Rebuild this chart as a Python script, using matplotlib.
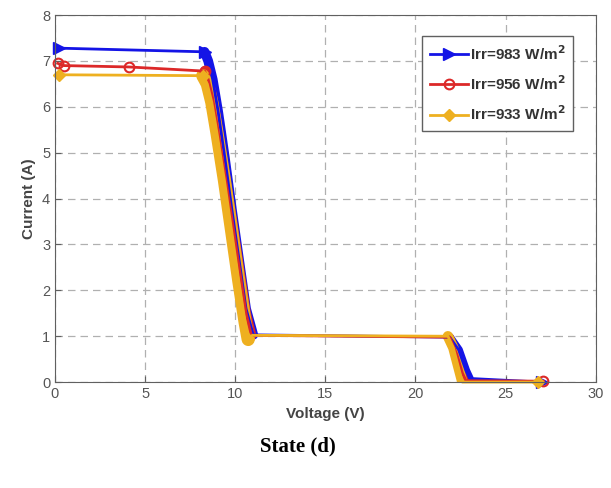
import matplotlib.pyplot as plt

# Irr = 983 W/m^2
v_983 = [0.2, 8.3, 8.5, 8.75, 9.05, 9.42, 9.8, 10.2, 10.6, 11.0, 21.9, 22.4, 22.8, 23.0, 27.0]
i_983 = [7.28, 7.2, 7.0, 6.6, 5.9, 4.9, 3.8, 2.7, 1.6, 1.03, 0.98, 0.7, 0.25, 0.08, 0.0]
# Irr = 956 W/m^2
v_956 = [0.15, 0.5, 4.1, 8.3, 8.5, 8.72, 9.0, 9.4, 9.8, 10.2, 10.6, 10.9, 21.9, 22.3, 22.6, 22.8, 27.1]
i_956 = [6.95, 6.9, 6.87, 6.78, 6.6, 6.25, 5.6, 4.6, 3.6, 2.55, 1.5, 1.02, 0.98, 0.6, 0.2, 0.03, 0.02]
# Irr = 933 W/m^2
v_933 = [0.2, 8.2, 8.45, 8.7, 9.0, 9.4, 9.8, 10.2, 10.55, 10.72, 10.95, 21.8, 22.1, 22.4, 22.6, 26.8]
i_933 = [6.7, 6.68, 6.5, 6.1, 5.4, 4.4, 3.3, 2.2, 1.3, 0.93, 1.02, 1.0, 0.75, 0.3, 0.0, 0.0]

labels = ["Irr=983 W/m$^\\mathbf{2}$", "Irr=956 W/m$^\\mathbf{2}$", "Irr=933 W/m$^\\mathbf{2}$"]

c_blue = "#1414e6"
c_red = "#dc2828"
c_yel = "#eeb020"

plt.rcParams["font.family"] = ["Liberation Sans", "DejaVu Sans"]

fig = plt.figure(figsize=(6.11, 4.88), dpi=100)
ax = fig.add_axes([0.09, 0.217, 0.885, 0.752])

# thick bands along the steep drops (dense marker regions)
ax.plot(v_983[1:10], i_983[1:10], color=c_blue, lw=7, solid_capstyle="round")
ax.plot(v_983[10:14], i_983[10:14], color=c_blue, lw=6, solid_capstyle="round")
ax.plot(v_956[3:12], i_956[3:12], color=c_red, lw=7, solid_capstyle="round")
ax.plot(v_956[12:16], i_956[12:16], color=c_red, lw=6, solid_capstyle="round")
ax.plot(v_933[1:10], i_933[1:10], color=c_yel, lw=9.5, solid_capstyle="round")
ax.plot(v_933[11:15], i_933[11:15], color=c_yel, lw=7.5, solid_capstyle="round")

ax.plot(v_983, i_983, color=c_blue, lw=2, marker=">", ms=8, mfc=c_blue, label=labels[0],
        markevery=[0, 1, 14], clip_on=False)
ax.plot(v_956, i_956, color=c_red, lw=2, marker="o", ms=7, mfc="none", mew=1.5, label=labels[1],
        markevery=[0, 1, 2, 3, 16], clip_on=False)
ax.plot(v_933, i_933, color=c_yel, lw=2, marker="D", ms=6, mfc=c_yel, label=labels[2],
        markevery=[0, 1, 9, 15], clip_on=False)

ax.set_xlim(0, 30)
ax.set_ylim(0, 8)
ax.set_xticks(range(0, 31, 5))
ax.set_yticks(range(0, 9))
ax.grid(True, ls=(0, (6, 4)), color="#b0b0b0", lw=0.9)
for s in ax.spines.values():
    s.set_color("#606060")
ax.tick_params(direction="in", length=4, colors="#606060", labelsize=10.5, labelcolor="#555555")

ax.set_xlabel("Voltage (V)", fontsize=11, fontweight="bold", color="#444444")
ax.set_ylabel("Current (A)", fontsize=11, fontweight="bold", color="#444444")

leg = ax.legend(loc="upper right", bbox_to_anchor=(0.967, 0.955),
                prop={"weight": "bold", "size": 11}, fancybox=False, framealpha=1,
                edgecolor="#606060", handlelength=2.5, handletextpad=0.15, borderpad=0.5,
                labelspacing=0.75, borderaxespad=0.3)
for t in leg.get_texts():
    t.set_color("#333333")

fig.text(0.488, 0.085, "State (d)", ha="center", va="center", fontsize=15,
         fontweight="bold", family="Liberation Serif")

fig.savefig("out.png", dpi=100)
